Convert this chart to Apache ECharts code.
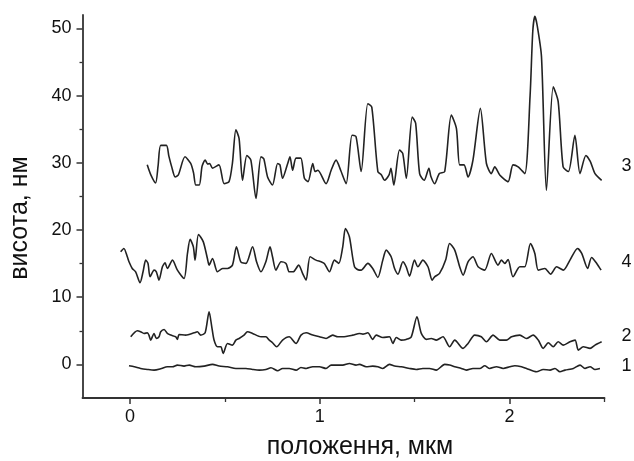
<!DOCTYPE html>
<html>
<head>
<meta charset="utf-8">
<script src="https://cdn.jsdelivr.net/npm/echarts@6/dist/echarts.min.js"></script>
<style>
  html, body { margin: 0; padding: 0; background: #fff; }
  #chart { width: 634px; height: 461px; }
</style>
</head>
<body>
<div id="chart"></div>
<script>
// Axis ticks
const xMajorTicks = [0, 1, 2];
const xMinorTicks = [0.5, 1.5, 2.5];
const yMajorTicks = [0, 10, 20, 30, 40, 50];
const yMinorTicks = [5, 15, 25, 35, 45];

// Height profiles: [position (µm), height (nm)]
const profile1 = [
  [-0.005,-0.2],[0.023,-0.35],[0.056,-0.6],[0.092,-0.75],[0.127,-0.85],[0.162,-0.65],[0.197,-0.35],
  [0.224,-0.35],[0.25,-0.1],[0.285,-0.25],[0.312,-0.1],[0.347,-0.35],[0.391,-0.25],[0.435,0.0],
  [0.47,-0.25],[0.514,-0.35],[0.558,-0.6],[0.611,-0.6],[0.646,-0.75],[0.681,-0.85],[0.716,-0.75],
  [0.743,-0.5],[0.778,-0.95],[0.804,-0.6],[0.839,-0.6],[0.875,-0.85],[0.901,-0.45],[0.928,-0.6],
  [0.963,-0.35],[0.998,-0.35],[1.033,-0.6],[1.06,-0.1],[1.095,-0.1],[1.121,-0.1],[1.156,0.14],
  [1.191,-0.1],[1.209,0.0],[1.244,-0.35],[1.279,-0.25],[1.306,-0.35],[1.332,-0.6],[1.367,0.0],
  [1.394,-0.25],[1.429,-0.35],[1.473,-0.6],[1.508,-0.75],[1.543,-0.6],[1.578,-0.6],[1.614,-0.85],
  [1.658,0.0],[1.684,-0.1],[1.711,-0.35],[1.746,-0.6],[1.772,-0.85],[1.807,-0.6],[1.843,-0.6],
  [1.869,-0.2],[1.895,-0.6],[1.931,-0.35],[1.966,-0.6],[2.001,-0.35],[2.028,-0.2],[2.063,-0.35],
  [2.089,-0.6],[2.142,-1.1],[2.177,-0.75],[2.213,-0.85],[2.239,-0.6],[2.265,-1.1],[2.292,-0.85],
  [2.336,-0.6],[2.371,-0.1],[2.397,-0.6],[2.424,-0.35],[2.45,-0.75],[2.476,-0.6]
];
const profile2 = [
  [0.004,4.11],[0.039,5.0],[0.056,4.86],[0.074,4.61],[0.092,4.7],[0.1,4.36],[0.109,3.62],[0.127,4.61],
  [0.139,3.86],[0.153,4.11],[0.162,4.86],[0.18,5.2],[0.197,4.61],[0.215,4.36],[0.241,4.11],[0.25,3.72],
  [0.259,4.46],[0.294,4.36],[0.338,4.7],[0.355,4.86],[0.373,4.36],[0.396,4.7],[0.417,7.83],[0.431,5.6],
  [0.443,3.62],[0.461,2.62],[0.479,2.62],[0.491,1.63],[0.514,3.12],[0.54,2.87],[0.558,3.62],[0.575,3.86],
  [0.601,4.36],[0.619,4.86],[0.646,4.61],[0.69,4.11],[0.716,4.11],[0.734,3.62],[0.751,3.22],[0.773,2.62],
  [0.804,3.62],[0.839,4.11],[0.875,3.12],[0.901,4.36],[0.928,4.7],[0.963,4.36],[0.998,4.11],[1.033,3.86],
  [1.068,4.36],[1.095,4.11],[1.121,4.11],[1.174,4.36],[1.209,4.61],[1.227,4.5],[1.253,4.7],[1.279,3.72],
  [1.297,4.36],[1.332,4.0],[1.367,4.11],[1.385,3.12],[1.403,4.0],[1.429,3.62],[1.455,3.72],[1.482,4.11],
  [1.512,7.09],[1.535,4.61],[1.561,3.72],[1.587,3.86],[1.614,3.62],[1.649,4.11],[1.684,2.62],[1.711,3.62],
  [1.755,2.38],[1.781,3.12],[1.816,4.36],[1.851,4.11],[1.878,3.37],[1.913,4.36],[1.948,3.62],[1.983,3.62],
  [2.01,4.11],[2.054,4.36],[2.089,3.86],[2.124,4.36],[2.151,3.62],[2.177,2.38],[2.204,3.22],[2.23,2.62],
  [2.256,3.37],[2.283,2.87],[2.318,3.37],[2.345,3.62],[2.362,2.13],[2.388,2.62],[2.424,2.38],[2.45,2.87],
  [2.485,3.37]
];
const profile3 = [
  [0.091,29.7],[0.11,28.2],[0.135,27.0],[0.148,29.5],[0.162,32.6],[0.192,32.6],[0.205,31],[0.22,29.4],
  [0.238,27.9],[0.255,28.2],[0.29,30.9],[0.32,29.9],[0.335,28.5],[0.347,26.7],[0.365,26.7],[0.38,29.5],
  [0.396,30.4],[0.41,29.8],[0.42,29.9],[0.435,29.2],[0.469,29.7],[0.496,26.9],[0.522,27.2],[0.54,30],
  [0.558,34.9],[0.575,33.6],[0.593,27.4],[0.616,31.1],[0.637,30.4],[0.664,24.7],[0.69,30.9],[0.705,30.6],
  [0.725,27.9],[0.751,26.7],[0.778,29.9],[0.79,29.7],[0.804,27.7],[0.831,29.9],[0.843,30.9],[0.857,28.9],
  [0.875,30.7],[0.9,30.7],[0.919,27.7],[0.938,27.2],[0.963,29.9],[0.975,28.7],[0.99,28.9],[1.033,26.9],
  [1.06,28.9],[1.086,30.4],[1.11,28.9],[1.139,26.9],[1.17,34.1],[1.191,33.9],[1.218,28.7],[1.253,38.8],
  [1.274,38.3],[1.306,28.7],[1.325,28.2],[1.341,27.4],[1.365,28.2],[1.375,29.2],[1.39,26.7],[1.42,31.9],
  [1.437,31.4],[1.456,27.7],[1.487,36.8],[1.505,35.9],[1.526,28.4],[1.55,27.4],[1.575,29.2],[1.585,28],
  [1.605,26.9],[1.63,28.4],[1.658,28.7],[1.693,37.1],[1.72,35.1],[1.737,29.7],[1.76,29.7],[1.781,27.9],
  [1.807,30.4],[1.846,38.1],[1.878,29.9],[1.904,28.4],[1.922,29.4],[1.948,28.2],[1.992,27.2],[2.018,29.7],
  [2.045,29.4],[2.08,28.4],[2.108,40],[2.122,49.5],[2.133,51.8],[2.145,50.5],[2.168,45.8],[2.194,25.9],
  [2.23,41.3],[2.256,39.1],[2.282,29.4],[2.31,28.7],[2.344,34.1],[2.371,28.4],[2.402,31.1],[2.425,30.2],
  [2.45,28.4],[2.485,27.4]
];
const profile4 = [
  [-0.049,16.76],[-0.032,17.26],[-0.014,16.02],[-0.005,15.27],[0.012,14.28],[0.03,13.78],[0.053,12.15],
  [0.069,13.78],[0.083,15.52],[0.095,15.03],[0.106,13.04],[0.127,14.03],[0.139,13.78],[0.153,12.55],
  [0.171,14.53],[0.185,15.12],[0.197,14.28],[0.224,15.52],[0.25,14.03],[0.285,12.79],[0.303,16.51],
  [0.317,18.6],[0.334,17.5],[0.343,15.52],[0.361,19.34],[0.386,18.27],[0.408,15.77],[0.417,14.78],
  [0.435,15.77],[0.461,13.78],[0.488,14.28],[0.514,14.28],[0.54,14.78],[0.561,17.5],[0.584,15.27],
  [0.611,15.03],[0.646,17.5],[0.667,15.27],[0.69,13.78],[0.716,15.27],[0.738,17.5],[0.751,16.02],
  [0.769,14.03],[0.796,15.27],[0.822,15.03],[0.839,13.78],[0.86,13.78],[0.889,14.78],[0.91,13.5],
  [0.928,12.55],[0.949,16.02],[0.98,15.52],[1.007,15.27],[1.024,15.03],[1.051,13.78],[1.077,15.52],
  [1.1,15.03],[1.121,17.5],[1.135,20.23],[1.156,19.0],[1.183,14.53],[1.209,14.03],[1.218,14.03],
  [1.253,15.03],[1.279,14.28],[1.306,12.94],[1.332,15.52],[1.35,17.01],[1.376,16.02],[1.394,14.28],
  [1.412,13.44],[1.438,15.27],[1.455,14.53],[1.473,13.14],[1.499,15.52],[1.517,14.53],[1.543,15.52],
  [1.57,14.53],[1.592,12.55],[1.605,13.04],[1.631,13.54],[1.663,15.52],[1.684,18.0],[1.711,17.01],
  [1.737,14.53],[1.755,13.29],[1.781,15.27],[1.807,16.02],[1.834,14.53],[1.869,14.03],[1.904,16.51],
  [1.939,14.78],[1.957,15.52],[1.975,15.03],[1.992,15.62],[2.018,13.04],[2.054,14.53],[2.08,14.53],
  [2.11,18.0],[2.133,16.51],[2.151,14.03],[2.186,14.28],[2.216,13.44],[2.248,14.53],[2.283,14.03],
  [2.318,15.52],[2.358,17.26],[2.38,16.51],[2.411,14.28],[2.432,15.92],[2.459,15.03],[2.482,14.03]
];

// Curve tags drawn past the right end, with the height they sit at
const curveTags = ['3', '4', '2', '1'];
const curveTagHeights = [29.5, 15.3, 4.2, -0.3];

const xTitle = 'положення, мкм';
const yTitle = 'висота, нм';

const FONT = '"Liberation Sans", Arial, Helvetica, sans-serif';
const INK = '#222';
const AXIS = '#333';
const TEXT = '#111';

const X_MIN = -0.25, X_MAX = 2.5, Y_MIN = -5, Y_MAX = 52;

const chart = echarts.init(document.getElementById('chart'), null, { renderer: 'canvas' });

function lineSeries(name, data) {
  return {
    name, type: 'line', data,
    xAxisIndex: 0, yAxisIndex: 0,
    symbol: 'none', smooth: 0.25,
    lineStyle: { color: INK, width: 1.6 },
    silent: true
  };
}

const baseX = {
  type: 'value', min: X_MIN, max: X_MAX, position: 'bottom',
  splitLine: { show: false }
};
const baseY = {
  type: 'value', min: Y_MIN, max: Y_MAX, position: 'left',
  splitLine: { show: false }
};

chart.setOption({
  animation: false,
  backgroundColor: '#fff',
  grid: { left: 82.5, right: 29.5, top: 15, bottom: 63, containLabel: false },
  xAxis: [
    Object.assign({}, baseX, {
      axisLine: { show: true, onZero: false, lineStyle: { color: AXIS, width: 1.8 } },
      axisTick: { show: true, inside: false, length: 6, customValues: xMajorTicks, lineStyle: { color: AXIS, width: 1.5 } },
      axisLabel: { show: true, margin: 10, customValues: xMajorTicks, fontFamily: FONT, fontSize: 18, color: TEXT }
    }),
    Object.assign({}, baseX, {
      axisLine: { show: false, onZero: false },
      axisTick: { show: true, inside: false, length: 4, customValues: xMinorTicks, lineStyle: { color: AXIS, width: 1.3 } },
      axisLabel: { show: false }
    })
  ],
  yAxis: [
    Object.assign({}, baseY, {
      axisLine: { show: true, onZero: false, lineStyle: { color: AXIS, width: 1.8 } },
      axisTick: { show: true, inside: false, length: 6, customValues: yMajorTicks, lineStyle: { color: AXIS, width: 1.5 } },
      axisLabel: { show: true, margin: 11, customValues: yMajorTicks, fontFamily: FONT, fontSize: 18, color: TEXT }
    }),
    Object.assign({}, baseY, {
      axisLine: { show: false, onZero: false },
      axisTick: { show: true, inside: false, length: 3, customValues: yMinorTicks, lineStyle: { color: AXIS, width: 1.3 } },
      axisLabel: { show: false }
    })
  ],
  series: [
    lineSeries('1', profile1),
    lineSeries('2', profile2),
    lineSeries('3', profile3),
    lineSeries('4', profile4)
  ]
});

// Curve tags and axis titles
const graphics = curveTags.map((tag, i) => {
  const p = chart.convertToPixel({ xAxisIndex: 0, yAxisIndex: 0 }, [X_MAX, curveTagHeights[i]]);
  return {
    type: 'text', x: p[0] + 22, y: p[1],
    style: { text: tag, fontFamily: FONT, fontSize: 18, fill: TEXT, align: 'center', verticalAlign: 'middle' }
  };
});
graphics.push({
  type: 'text', x: 360, y: 447,
  style: { text: xTitle, fontFamily: FONT, fontSize: 25, fill: TEXT, align: 'center', verticalAlign: 'middle' }
});
graphics.push({
  type: 'text', x: 20, y: 218, rotation: Math.PI / 2,
  style: { text: yTitle, fontFamily: FONT, fontSize: 25, fill: TEXT, align: 'center', verticalAlign: 'middle' }
});
chart.setOption({ graphic: graphics });
</script>
</body>
</html>
